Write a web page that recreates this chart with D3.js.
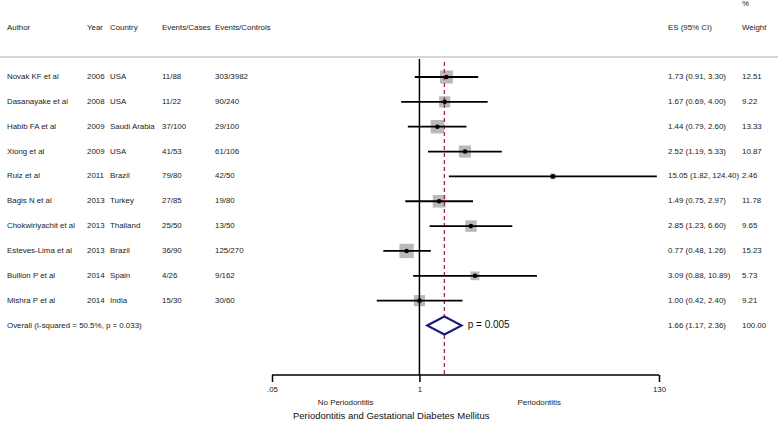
<!DOCTYPE html>
<html>
<head>
<meta charset="utf-8">
<script src="https://cdn.jsdelivr.net/npm/d3@7"></script>
<style>
  body { margin: 0; background: #fff; }
  svg { font-family: "Liberation Sans", Arial, sans-serif; }
</style>
</head>
<body>
<svg id="forest" width="778" height="422"></svg>
<script>
'use strict';

// study table
const authors = ['Novak KF et al', 'Dasanayake et al', 'Habib FA et al', 'Xiong et al', 'Ruiz et al',
  'Bagis N et al', 'Chokwiriyachit et al', 'Esteves-Lima et al', 'Bullion P et al', 'Mishra P et al'];
const years = [2006, 2008, 2009, 2009, 2011, 2013, 2013, 2013, 2014, 2014];
const countries = ['USA', 'USA', 'Saudi Arabia', 'USA', 'Brazil', 'Turkey', 'Thailand', 'Brazil', 'Spain', 'India'];
const eventsCases = ['11/88', '11/22', '37/100', '41/53', '79/80', '27/85', '25/50', '36/90', '4/26', '15/30'];
const eventsControls = ['303/3982', '90/240', '29/100', '61/106', '42/50', '19/80', '13/50', '125/270', '9/162', '30/60'];
const es = [1.73, 1.67, 1.44, 2.52, 15.05, 1.49, 2.85, 0.77, 3.09, 1.00];
const lo = [0.91, 0.69, 0.79, 1.19, 1.82, 0.75, 1.23, 0.48, 0.88, 0.42];
const hi = [3.30, 4.00, 2.60, 5.33, 124.40, 2.97, 6.60, 1.26, 10.89, 2.40];
const weights = [12.51, 9.22, 13.33, 10.87, 2.46, 11.78, 9.65, 15.23, 5.73, 9.21];

// pooled estimate
const overallLabel = 'Overall  (I-squared = 50.5%, p = 0.033)';
const overallEs = 1.66, overallLo = 1.17, overallHi = 2.36;
const overallWeight = '100.00';
const overallP = 'p = 0.005';

const axisTicks = [0.05, 1, 130];
const axisTickLabels = ['.05', '1', '130'];

const data = authors.map((a, i) => ({
  author: a, year: years[i], country: countries[i],
  cases: eventsCases[i], controls: eventsControls[i],
  es: es[i], lo: lo[i], hi: hi[i], w: weights[i],
}));

const svg = d3.select('#forest');
const fs = 7.9;
const textCol = '#222';

const x = d3.scaleLog().domain([0.05, 130]).range([272, 659]);
const rows = d3.range(data.length + 1);
const y = d3.scalePoint().domain(rows).range([77, 325.5]);
const axisY = 375;
const topY = 59;

const fmt = d3.format('.2f');
const esText = (e, l, h) => `${fmt(e)} (${fmt(l)}, ${fmt(h)})`;

// header
const head = svg.append('g').attr('fill', textCol).attr('font-size', fs);
[['Author', 7], ['Year', 87], ['Country', 110], ['Events/Cases', 162], ['Events/Controls', 215],
 ['ES (95% CI)', 668], ['Weight', 742]].forEach(([t, px]) => {
  head.append('text').attr('x', px).attr('y', 28).attr('dominant-baseline', 'middle').text(t);
});
head.append('text').attr('x', 742).attr('y', 4).attr('dominant-baseline', 'middle').text('%');

svg.append('line')
  .attr('x1', 0).attr('x2', 778).attr('y1', 57).attr('y2', 57)
  .attr('stroke', '#c8c8c8').attr('stroke-width', 1.5);

// table columns
const cols = [
  [d => d.author, 7], [d => d.year, 87], [d => d.country, 110],
  [d => d.cases, 162], [d => d.controls, 215],
  [d => esText(d.es, d.lo, d.hi), 668], [d => fmt(d.w), 742],
];
const tbl = svg.append('g').attr('fill', textCol).attr('font-size', fs);
cols.forEach(([f, px]) => {
  tbl.selectAll(null).data(data).join('text')
    .attr('x', px).attr('y', (d, i) => y(i))
    .attr('dominant-baseline', 'middle')
    .text(f);
});
const oy = y(data.length);
tbl.append('text').attr('x', 7).attr('y', oy).attr('dominant-baseline', 'middle').text(overallLabel);
tbl.append('text').attr('x', 668).attr('y', oy).attr('dominant-baseline', 'middle')
  .text(esText(overallEs, overallLo, overallHi));
tbl.append('text').attr('x', 742).attr('y', oy).attr('dominant-baseline', 'middle').text(overallWeight);

// weight squares (area ~ weight)
const side = d => 3.67 * Math.sqrt(d.w);
svg.append('g').selectAll('rect').data(data).join('rect')
  .attr('x', d => x(d.es) - side(d) / 2)
  .attr('y', (d, i) => y(i) - side(d) / 2)
  .attr('width', side).attr('height', side)
  .attr('fill', '#b9b9b9');

// null line
svg.append('line')
  .attr('x1', x(1)).attr('x2', x(1)).attr('y1', topY).attr('y2', axisY)
  .attr('stroke', '#000').attr('stroke-width', 1.5);

// pooled estimate line
svg.append('line')
  .attr('x1', x(overallEs)).attr('x2', x(overallEs)).attr('y1', topY + 3).attr('y2', axisY)
  .attr('stroke', '#a8283c').attr('stroke-width', 1.3).attr('stroke-dasharray', '4,3');

// confidence intervals
svg.append('g').selectAll('line').data(data).join('line')
  .attr('x1', d => x(d.lo)).attr('x2', d => x(d.hi))
  .attr('y1', (d, i) => y(i)).attr('y2', (d, i) => y(i))
  .attr('stroke', '#000').attr('stroke-width', 1.8);

svg.append('g').selectAll('circle').data(data).join('circle')
  .attr('cx', d => x(d.es)).attr('cy', (d, i) => y(i)).attr('r', 2.3)
  .attr('fill', '#000');

// diamond
const dh = 9;
svg.append('path')
  .attr('d', `M${x(overallLo)},${oy} L${x(overallEs)},${oy - dh} L${x(overallHi)},${oy} L${x(overallEs)},${oy + dh} Z`)
  .attr('fill', '#fff').attr('stroke', '#1a1a78').attr('stroke-width', 2);
svg.append('text')
  .attr('x', x(overallHi) + 6).attr('y', oy).attr('dominant-baseline', 'middle')
  .attr('font-size', 10).attr('fill', '#111').text(overallP);

// x axis
const ax = svg.append('g').attr('transform', `translate(0,${axisY})`)
  .call(d3.axisBottom(x).tickValues(axisTicks).tickFormat((d, i) => axisTickLabels[i]).tickSize(7).tickPadding(4));
ax.select('.domain').attr('stroke-width', 1.5).attr('d', `M${x(0.05)},0H${x(130)}`);
ax.selectAll('.tick line').attr('stroke-width', 1.5);
ax.selectAll('.tick text').attr('font-size', fs).attr('fill', textCol)
  .attr('font-family', '"Liberation Sans", Arial, sans-serif');

svg.append('text')
  .attr('x', (x(0.05) + x(1)) / 2).attr('y', 403).attr('text-anchor', 'middle')
  .attr('dominant-baseline', 'middle').attr('font-size', fs).attr('fill', textCol).text('No Periodontitis');
svg.append('text')
  .attr('x', (x(1) + x(130)) / 2).attr('y', 403).attr('text-anchor', 'middle')
  .attr('dominant-baseline', 'middle').attr('font-size', fs).attr('fill', textCol).text('Periodontitis');
svg.append('text')
  .attr('x', 293).attr('y', 416).attr('dominant-baseline', 'middle')
  .attr('font-size', 9.5).attr('fill', '#111').text('Periodontitis and Gestational Diabetes Mellitus');
</script>
</body>
</html>
